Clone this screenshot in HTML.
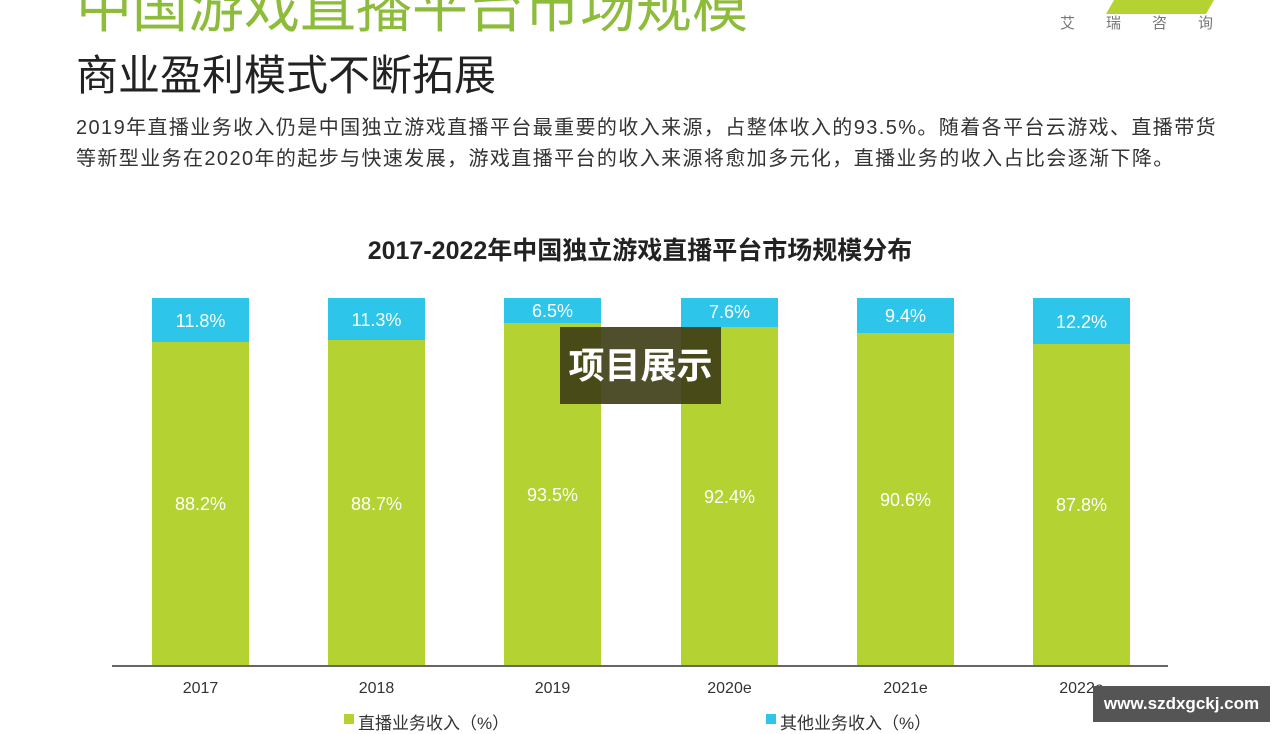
<!DOCTYPE html>
<html><head><meta charset="utf-8"><style>
body{margin:0;width:1280px;height:732px;background:#fff;position:relative;overflow:hidden;font-family:"Liberation Sans","Noto Sans CJK SC",sans-serif}
.a{position:absolute;white-space:nowrap}
.bar{position:absolute;width:97px}
.g{background:#b4d232}.b{background:#2ec5ea}
.lbl{position:absolute;width:97px;text-align:center;color:#fff;font-size:18px}
.yr{position:absolute;width:97px;text-align:center;color:#333;font-size:16px;top:680px}
</style></head><body>
<div class="a" style="left:76px;top:-37px;font-size:56px;color:#8dbb3a">中国游戏直播平台市场规模</div>
<div class="a" style="left:76px;top:42px;font-size:42px;color:#222">商业盈利模式不断拓展</div>
<div class="a" style="left:1060px;top:12px;font-size:15px;color:#777;letter-spacing:31px">艾瑞咨询</div>
<div class="a" style="left:1110px;top:0;width:100px;height:14px;background:#b4d232;transform:skewX(-30deg)"></div>
<div class="a" style="left:76px;top:113px;font-size:20px;color:#333;line-height:31px;letter-spacing:1.4px">2019年直播业务收入仍是中国独立游戏直播平台最重要的收入来源，占整体收入的93.5%。随着各平台云游戏、直播带货<br>等新型业务在2020年的起步与快速发展，游戏直播平台的收入来源将愈加多元化，直播业务的收入占比会逐渐下降。</div>
<div class="a" style="left:0;width:1280px;text-align:center;top:231px;font-size:25px;font-weight:bold;color:#222">2017-2022年中国独立游戏直播平台市场规模分布</div>

<div class="bar b" style="left:152px;top:298px;height:44px"></div><div class="bar g" style="left:152px;top:342px;height:324px"></div>
<div class="bar b" style="left:328px;top:298px;height:42px"></div><div class="bar g" style="left:328px;top:340px;height:326px"></div>
<div class="bar b" style="left:504px;top:298px;height:25px"></div><div class="bar g" style="left:504px;top:323px;height:343px"></div>
<div class="bar b" style="left:681px;top:298px;height:29px"></div><div class="bar g" style="left:681px;top:327px;height:339px"></div>
<div class="bar b" style="left:857px;top:298px;height:35px"></div><div class="bar g" style="left:857px;top:333px;height:333px"></div>
<div class="bar b" style="left:1033px;top:298px;height:46px"></div><div class="bar g" style="left:1033px;top:344px;height:322px"></div>

<div class="lbl" style="left:152px;top:311px">11.8%</div><div class="lbl" style="left:152px;top:494px">88.2%</div>
<div class="lbl" style="left:328px;top:310px">11.3%</div><div class="lbl" style="left:328px;top:494px">88.7%</div>
<div class="lbl" style="left:504px;top:301px">6.5%</div><div class="lbl" style="left:504px;top:485px">93.5%</div>
<div class="lbl" style="left:681px;top:302px">7.6%</div><div class="lbl" style="left:681px;top:487px">92.4%</div>
<div class="lbl" style="left:857px;top:306px">9.4%</div><div class="lbl" style="left:857px;top:490px">90.6%</div>
<div class="lbl" style="left:1033px;top:312px">12.2%</div><div class="lbl" style="left:1033px;top:495px">87.8%</div>

<div class="a" style="left:112px;top:665px;width:1056px;height:2px;background:#666"></div>
<div class="yr" style="left:152px">2017</div><div class="yr" style="left:328px">2018</div><div class="yr" style="left:504px">2019</div>
<div class="yr" style="left:681px">2020e</div><div class="yr" style="left:857px">2021e</div><div class="yr" style="left:1033px">2022e</div>
<div class="a" style="left:344px;top:714px;width:10px;height:10px;background:#b4d232"></div>
<div class="a" style="left:358px;top:709px;font-size:17px;color:#333">直播业务收入（%）</div>
<div class="a" style="left:766px;top:714px;width:10px;height:10px;background:#2ec5ea"></div>
<div class="a" style="left:780px;top:709px;font-size:17px;color:#333">其他业务收入（%）</div>

<div class="a" style="left:560px;top:327px;width:161px;height:77px;background:rgba(60,60,20,0.9);color:#fff;font-size:36px;font-weight:bold;text-align:center;line-height:77px">项目展示</div>
<div class="a" style="left:1093px;top:686px;width:177px;height:36px;background:#555;color:#fff;font-size:17px;font-weight:bold;text-align:center;line-height:36px">www.szdxgckj.com</div>
</body></html>
